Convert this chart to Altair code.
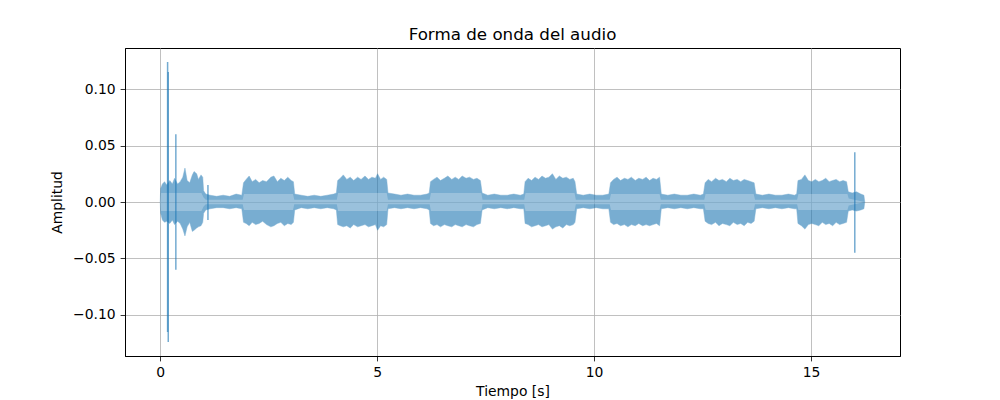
import altair as alt
import pandas as pd

TITLE = "Forma de onda del audio"

# Envelope of the waveform (time in s, upper / lower amplitude)
t_env = [0.00, 0.01, 0.05, 0.10, 0.15, 0.22, 0.28, 0.33, 0.40, 0.46, 0.52, 0.57, 0.62, 0.68, 0.74, 0.78, 0.84, 0.88, 0.94, 0.98,
         1.00, 1.05, 1.15, 1.30, 1.45, 1.60, 1.75, 1.88,
         1.92, 1.98, 2.05, 2.12, 2.20, 2.28, 2.36, 2.45, 2.55, 2.62, 2.70, 2.78, 2.86, 2.94, 3.02, 3.07,
         3.10, 3.25, 3.40, 3.55, 3.70, 3.85, 4.00, 4.06,
         4.09, 4.15, 4.22, 4.30, 4.38, 4.46, 4.55, 4.63, 4.72, 4.80, 4.88, 4.96, 5.01, 5.08, 5.15, 5.22,
         5.25, 5.40, 5.55, 5.70, 5.85, 6.00, 6.15, 6.20,
         6.23, 6.30, 6.38, 6.46, 6.55, 6.63, 6.72, 6.80, 6.88, 6.96, 7.05, 7.13, 7.22, 7.30, 7.38,
         7.42, 7.55, 7.70, 7.85, 8.00, 8.15, 8.30, 8.38,
         8.41, 8.48, 8.56, 8.64, 8.72, 8.80, 8.88, 8.96, 9.04, 9.12, 9.20, 9.28, 9.36, 9.44, 9.52, 9.56,
         9.60, 9.75, 9.90, 10.05, 10.20, 10.34,
         10.38, 10.45, 10.53, 10.61, 10.70, 10.78, 10.86, 10.95, 11.03, 11.12, 11.20, 11.28, 11.36, 11.44, 11.51,
         11.55, 11.70, 11.85, 12.00, 12.15, 12.30, 12.45, 12.52,
         12.56, 12.63, 12.71, 12.80, 12.88, 12.96, 13.05, 13.13, 13.21, 13.30, 13.38, 13.46, 13.54, 13.62, 13.69,
         13.73, 13.88, 14.03, 14.18, 14.33, 14.48, 14.62, 14.67,
         14.70, 14.78, 14.86, 14.94, 15.02, 15.10, 15.18, 15.26, 15.34, 15.42, 15.50, 15.58, 15.66, 15.74, 15.82,
         15.86, 15.95, 16.05, 16.15, 16.22, 16.24]
upper = [0.000, 0.012, 0.016, 0.018, 0.015, 0.019, 0.016, 0.021, 0.016, 0.018, 0.022, 0.030, 0.019, 0.017, 0.024, 0.027, 0.025, 0.020, 0.024, 0.022,
         0.010, 0.007, 0.006, 0.005, 0.006, 0.005, 0.007, 0.006,
         0.017, 0.020, 0.023, 0.018, 0.020, 0.017, 0.019, 0.018, 0.022, 0.023, 0.018, 0.021, 0.019, 0.022, 0.019, 0.018,
         0.007, 0.006, 0.005, 0.006, 0.005, 0.006, 0.007, 0.008,
         0.019, 0.021, 0.024, 0.020, 0.022, 0.019, 0.022, 0.020, 0.023, 0.020, 0.022, 0.021, 0.025, 0.020, 0.022, 0.020,
         0.008, 0.007, 0.006, 0.007, 0.006, 0.006, 0.007, 0.008,
         0.018, 0.020, 0.022, 0.019, 0.021, 0.023, 0.020, 0.022, 0.020, 0.023, 0.021, 0.022, 0.020, 0.021, 0.019,
         0.008, 0.006, 0.007, 0.006, 0.006, 0.007, 0.006, 0.007,
         0.018, 0.021, 0.019, 0.022, 0.020, 0.023, 0.021, 0.022, 0.025, 0.020, 0.023, 0.021, 0.022, 0.020, 0.021, 0.018,
         0.007, 0.006, 0.007, 0.006, 0.006, 0.007,
         0.017, 0.020, 0.022, 0.019, 0.021, 0.020, 0.022, 0.019, 0.021, 0.020, 0.022, 0.019, 0.021, 0.020, 0.022,
         0.007, 0.006, 0.007, 0.006, 0.006, 0.007, 0.006, 0.007,
         0.017, 0.020, 0.018, 0.021, 0.019, 0.020, 0.018, 0.021, 0.019, 0.020, 0.018, 0.020, 0.019, 0.018, 0.017,
         0.007, 0.006, 0.007, 0.006, 0.006, 0.007, 0.006, 0.007,
         0.019, 0.020, 0.024, 0.019, 0.018, 0.020, 0.018, 0.019, 0.021, 0.018, 0.019, 0.020, 0.018, 0.019, 0.018,
         0.009, 0.008, 0.009, 0.007, 0.006, 0.000]
lower = [0.000, -0.010, -0.016, -0.018, -0.017, -0.019, -0.016, -0.020, -0.017, -0.019, -0.024, -0.030, -0.022, -0.018, -0.026, -0.025, -0.023, -0.022, -0.021, -0.018,
         -0.010, -0.007, -0.006, -0.005, -0.005, -0.006, -0.005, -0.006,
         -0.018, -0.019, -0.021, -0.018, -0.020, -0.019, -0.017, -0.020, -0.022, -0.021, -0.019, -0.018, -0.021, -0.019, -0.020, -0.018,
         -0.007, -0.005, -0.006, -0.005, -0.006, -0.005, -0.006, -0.007,
         -0.020, -0.021, -0.022, -0.021, -0.023, -0.020, -0.022, -0.021, -0.020, -0.022, -0.021, -0.020, -0.025, -0.021, -0.022, -0.020,
         -0.006, -0.005, -0.006, -0.005, -0.006, -0.005, -0.006, -0.007,
         -0.019, -0.021, -0.020, -0.022, -0.020, -0.021, -0.022, -0.020, -0.021, -0.022, -0.020, -0.021, -0.022, -0.020, -0.019,
         -0.007, -0.005, -0.006, -0.005, -0.006, -0.005, -0.006, -0.006,
         -0.019, -0.020, -0.022, -0.021, -0.020, -0.022, -0.021, -0.020, -0.024, -0.022, -0.021, -0.023, -0.020, -0.021, -0.020, -0.018,
         -0.006, -0.005, -0.006, -0.005, -0.006, -0.006,
         -0.018, -0.020, -0.019, -0.021, -0.020, -0.022, -0.020, -0.021, -0.019, -0.021, -0.020, -0.021, -0.020, -0.019, -0.021,
         -0.006, -0.005, -0.006, -0.005, -0.006, -0.005, -0.006, -0.006,
         -0.017, -0.019, -0.020, -0.018, -0.021, -0.019, -0.020, -0.021, -0.018, -0.020, -0.019, -0.021, -0.018, -0.019, -0.017,
         -0.006, -0.005, -0.006, -0.005, -0.006, -0.005, -0.006, -0.006,
         -0.019, -0.021, -0.024, -0.020, -0.019, -0.020, -0.021, -0.018, -0.020, -0.019, -0.021, -0.018, -0.020, -0.019, -0.018,
         -0.008, -0.007, -0.008, -0.007, -0.006, 0.000]

# Lighter inner core of the waveform
t_core = [0.00, 0.02, 0.95, 1.00, 1.05, 1.90, 1.93, 3.06, 3.09, 4.07, 4.10, 5.22, 5.25, 6.21, 6.24, 7.40, 7.43,
          8.39, 8.42, 9.55, 9.58, 10.36, 10.39, 11.51, 11.54, 12.54, 12.57, 13.68, 13.71, 14.68, 14.71, 15.84, 15.87, 16.24]
core = [0.000, 0.008, 0.008, 0.004, 0.002, 0.002, 0.007, 0.007, 0.002, 0.002, 0.008, 0.008, 0.002, 0.002, 0.008, 0.008, 0.002,
        0.002, 0.008, 0.008, 0.002, 0.002, 0.007, 0.007, 0.002, 0.002, 0.007, 0.007, 0.002, 0.002, 0.007, 0.007, 0.003, 0.000]

# Isolated transient spikes
spike_t = [0.170, 0.185, 0.360, 1.100, 16.010]
spike_top = [0.124, 0.115, 0.060, 0.015, 0.044]
spike_bot = [-0.115, -0.124, -0.060, -0.016, -0.045]

x_ticks = [0, 5, 10, 15]
y_ticks = [-0.10, -0.05, 0.00, 0.05, 0.10]

env = pd.DataFrame({"t": t_env, "up": upper, "lo": lower})
cdf = pd.DataFrame({"t": t_core, "up": core, "lo": [-c for c in core]})
sdf = pd.DataFrame({"t": spike_t, "top": spike_top, "bot": spike_bot})
tdf = pd.DataFrame({"label": [TITLE]})

FONT = "DejaVu Sans"
xs = alt.Scale(domain=[-0.812, 17.052], nice=False, zero=False)
ys = alt.Scale(domain=[-0.1363, 0.1363], nice=False, zero=False)

xaxis = alt.Axis(values=x_ticks, title="Tiempo [s]", format="d")
yaxis = alt.Axis(values=y_ticks, title="Amplitud", format=".2f")

outer = alt.Chart(env).mark_area(color="#1f77b4", opacity=0.6, stroke="#1f77b4", strokeWidth=1.0, strokeOpacity=0.45).encode(
    x=alt.X("t:Q", scale=xs, axis=xaxis),
    y=alt.Y("up:Q", scale=ys, axis=yaxis),
    y2="lo:Q",
)
inner = alt.Chart(cdf).mark_area(color="#ffffff", opacity=0.25).encode(
    x=alt.X("t:Q", scale=xs),
    y=alt.Y("up:Q", scale=ys),
    y2="lo:Q",
)
spikes = alt.Chart(sdf).mark_rule(color="#1f77b4", opacity=0.62, strokeWidth=1.5).encode(
    x=alt.X("t:Q", scale=xs),
    y=alt.Y("top:Q", scale=ys),
    y2="bot:Q",
)
title = alt.Chart(tdf).mark_text(font=FONT, fontSize=16.7, color="black", align="center",
                                 baseline="alphabetic").encode(
    x=alt.value(387.5), y=alt.value(-8), text="label:N"
)

chart = alt.layer(outer, inner, spikes, title).properties(
    width=775,
    height=308,
    autosize=alt.AutoSizeParams(type="none"),
    padding={"left": 117, "top": 40, "right": 75, "bottom": 44},
).configure_view(
    stroke="black", strokeWidth=1
).configure_axis(
    labelFont=FONT, titleFont=FONT, labelFontSize=13.9, titleFontSize=13.9,
    labelColor="black", titleColor="black", titleFontWeight="normal",
    grid=True, gridColor="#b0b0b0", gridWidth=0.8,
    tickColor="black", tickSize=4.9, tickWidth=0.8, labelPadding=4.9,
    domainColor="black", domainWidth=1,
).configure_axisX(
    titlePadding=5
).configure_axisY(
    titlePadding=8
)

chart.save("out.html", embed_options={"renderer": "svg", "actions": False})
